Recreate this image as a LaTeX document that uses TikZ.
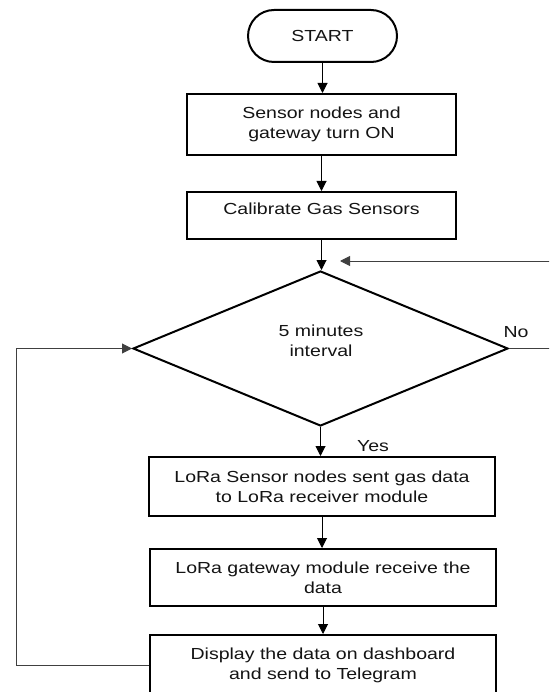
\documentclass[tikz,border=0pt]{standalone}
\usepackage{fontspec}
\setmainfont[FakeStretch=1.22]{Liberation Sans}
\usetikzlibrary{shapes.geometric,arrows.meta}
\definecolor{txt}{HTML}{141414}
\begin{document}
\begin{tikzpicture}[x=1pt,y=-1pt,
  font=\fontsize{16}{20}\selectfont, text=txt,
  boxshape/.style={draw=black, line width=2pt, rectangle, inner sep=0pt},
  box/.style={boxshape, align=center},
  term/.style={draw=black, line width=2pt, rectangle, rounded corners=26pt, inner sep=0pt},
  decision/.style={draw=black, line width=2pt, diamond, inner sep=0pt},
  arr/.style={-{Triangle[length=10pt,width=10pt]}, line width=1pt, draw=black},
  fb/.style={-{Triangle[length=10pt,width=10pt]}, line width=1pt, draw=black!75}
]
\useasboundingbox (0,0) rectangle (549,692);
\fill[white] (0,0) rectangle (549,692);
\clip (0,0) rectangle (549,692);

\node[term, minimum width=149pt, minimum height=52pt] (start) at (322.5,36) {START};
\node[box, minimum width=269pt, minimum height=61pt] (b1) at (321.5,124.5) {Sensor nodes and\\gateway turn ON};
\node[boxshape, minimum width=269pt, minimum height=47pt, text depth=14pt] (b2) at (321.5,215.5) {Calibrate Gas Sensors};
\node[decision, minimum width=375pt, minimum height=155pt] (dec) at (320.5,348.5) {};
\node[align=center] (dtxt) at (321,341) {5 minutes\\interval};
\node[box, minimum width=346pt, minimum height=59pt] (b3) at (322,486.5) {LoRa Sensor nodes sent gas data\\to LoRa receiver module};
\node[box, minimum width=346pt, minimum height=57pt] (b4) at (323,577.5) {LoRa gateway module receive the\\data};
\node[box, minimum width=346pt, minimum height=60pt] (b5) at (323,665) {Display the data on dashboard\\and send to Telegram};

\node (yes) at (373,446) {Yes};
\node (no) at (516,332) {No};

\draw[arr] (start.south) -- (start.south |- b1.north);
\draw[arr] (b1.south) -- (b1.south |- b2.north);
\draw[arr] (b2.south) -- (b2.south |- dec.north);
\draw[arr] (dec.south) -- (dec.south |- b3.north);
\draw[arr] (b3.south) -- (b3.south |- b4.north);
\draw[arr] (b4.south) -- (b4.south |- b5.north);

\coordinate (lft) at (16,665);
\draw[fb] (b5.west) -- (lft) |- (dec.west);

\coordinate (rgt) at (562,348.5);
\coordinate (ret) at (340,261);
\draw[fb] (dec.east) -- (rgt) |- (ret);
\end{tikzpicture}
\end{document}
